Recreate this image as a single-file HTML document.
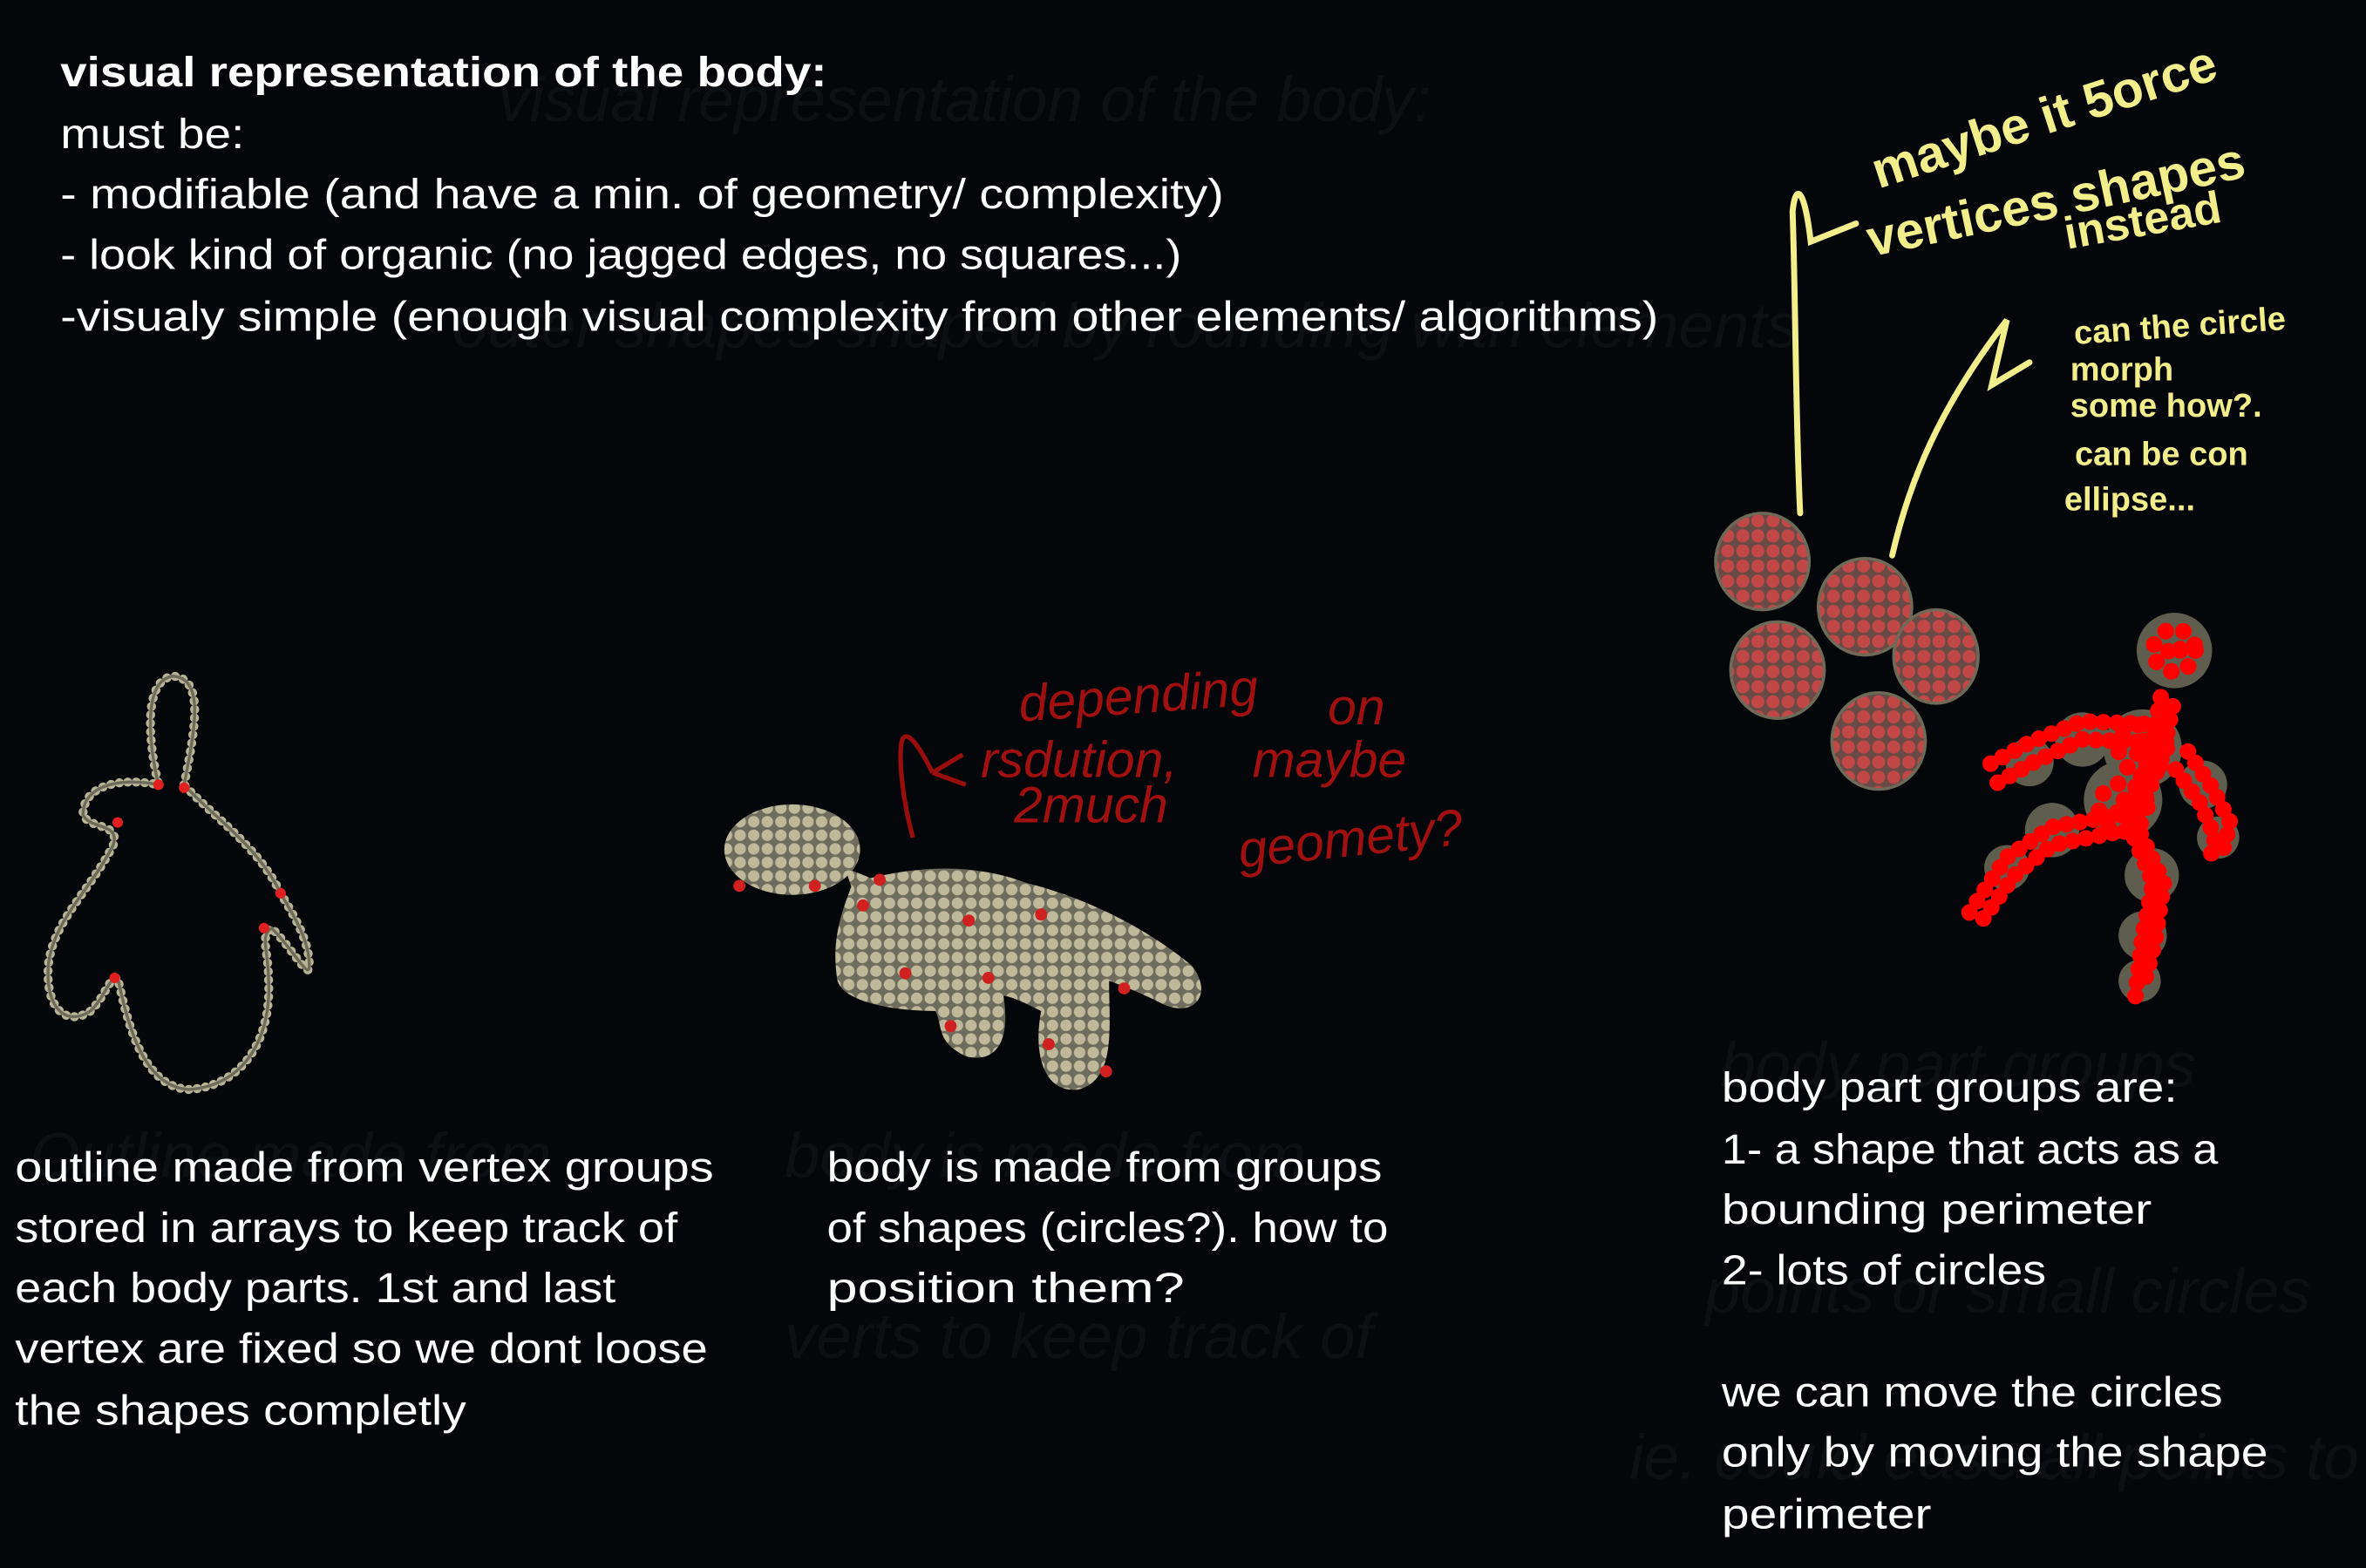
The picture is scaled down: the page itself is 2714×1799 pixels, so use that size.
<!DOCTYPE html>
<html><head><meta charset="utf-8">
<style>
html,body{margin:0;padding:0;background:#050609;width:2714px;height:1799px;overflow:hidden}
svg{display:block}
text{font-family:"Liberation Sans",sans-serif}
</style></head>
<body>
<svg width="2714" height="1799" viewBox="0 0 1568 1039">
<defs>
<pattern id="dots" width="9" height="9" patternUnits="userSpaceOnUse">
<rect width="9" height="9" fill="#6e6c5c"/>
<circle cx="4.5" cy="4.5" r="3.8" fill="#bdb99a"/>
</pattern>
<pattern id="rdots" width="10" height="10" patternUnits="userSpaceOnUse">
<rect width="10" height="10" fill="#6a4a44"/>
<circle cx="5" cy="5" r="4.3" fill="#c24848"/>
</pattern>
</defs>
<rect width="1568" height="1039" fill="#050609"/>

<!-- faint background scribbles -->
<g fill="#0c1013" font-size="42" font-style="italic">
<text x="330" y="80">visual representation of the body:</text>
<text x="300" y="230">outer shapes shaped by rounding with elements</text>
<text x="20" y="780">Outline made from</text>
<text x="520" y="780">body is made from</text>
<text x="520" y="900">verts to keep track of</text>
<text x="1140" y="720">body part groups</text>
<text x="1130" y="870">points or small circles</text>
<text x="1080" y="980">ie. could ease all points to</text>
</g>

<!-- header text -->
<g fill="#ffffff" font-size="28">
<text x="40" y="57" font-weight="bold" textLength="508" lengthAdjust="spacingAndGlyphs">visual representation of the body:</text>
<text x="40" y="98" textLength="122" lengthAdjust="spacingAndGlyphs">must be:</text>
<text x="40" y="138" textLength="771" lengthAdjust="spacingAndGlyphs">- modifiable (and have a min. of geometry/ complexity)</text>
<text x="40" y="178" textLength="743" lengthAdjust="spacingAndGlyphs">- look kind of organic (no jagged edges, no squares...)</text>
<text x="40" y="219" textLength="1059" lengthAdjust="spacingAndGlyphs">-visualy simple (enough visual complexity from other elements/ algorithms)</text>
</g>

<!-- left outline figure -->
<g>
<path d="M122,520 C130,480 135,450 115,448 C95,450 98,490 105,520 C80,515 55,520 55,540 C60,550 80,545 75,560 C60,590 35,610 32,640 C30,670 45,680 60,670 C70,660 72,648 78,648 C85,680 95,720 125,722 C160,720 180,690 178,650 C178,630 172,620 180,615 C195,630 205,650 205,640 C205,620 190,600 185,590 C170,560 140,540 122,520 Z" fill="none" stroke="#b8b496" stroke-width="6" stroke-dasharray="0.1 5.5" stroke-linecap="round"/>
<path d="M122,520 C130,480 135,450 115,448 C95,450 98,490 105,520 C80,515 55,520 55,540 C60,550 80,545 75,560 C60,590 35,610 32,640 C30,670 45,680 60,670 C70,660 72,648 78,648 C85,680 95,720 125,722 C160,720 180,690 178,650 C178,630 172,620 180,615 C195,630 205,650 205,640 C205,620 190,600 185,590 C170,560 140,540 122,520 Z" fill="none" stroke="#6d6b5a" stroke-width="2"/>
<g fill="#e02020">
<circle cx="105" cy="520" r="3.5"/><circle cx="122" cy="522" r="3.5"/><circle cx="78" cy="545" r="3.5"/>
<circle cx="76" cy="648" r="3.5"/><circle cx="175" cy="615" r="3.5"/><circle cx="186" cy="592" r="3.5"/>
</g>
</g>

<!-- middle blob -->
<g>
<ellipse cx="525" cy="563" rx="45" ry="30" fill="url(#dots)"/>
<path d="M565,585 C600,575 640,570 680,585 C720,595 760,615 790,640 C805,660 790,675 770,665 C750,655 735,650 735,650 C735,680 740,715 715,722 C690,725 685,695 690,670 C680,665 670,660 665,660 C670,690 660,705 640,700 C620,690 625,680 620,670 C595,670 560,665 555,650 C550,620 560,600 565,585 Z" fill="url(#dots)"/>
<path d="M560,575 L585,585 L570,605 Z" fill="url(#dots)"/>
<g fill="#d02020">
<circle cx="490" cy="587" r="4"/><circle cx="540" cy="587" r="4"/><circle cx="572" cy="600" r="4"/><circle cx="583" cy="583" r="4"/>
<circle cx="642" cy="610" r="4"/><circle cx="690" cy="606" r="4"/><circle cx="655" cy="648" r="4"/><circle cx="745" cy="655" r="4"/>
<circle cx="630" cy="680" r="4"/><circle cx="695" cy="692" r="4"/><circle cx="733" cy="710" r="4"/><circle cx="600" cy="645" r="4"/>
</g>
</g>

<!-- red handwriting -->
<g fill="none" stroke="#9a0d0d" stroke-width="3">
<path d="M605,555 C598,530 595,500 598,490 C602,482 612,500 618,512 M618,512 L638,500 M618,512 L640,520"/>
</g>
<g fill="#a01010" font-size="34" font-style="italic">
<text x="676" y="478" transform="rotate(-4 676 478)">depending</text>
<text x="880" y="480">on</text>
<text x="650" y="515">rsdution,</text>
<text x="830" y="515">maybe</text>
<text x="672" y="545">2much</text>
<text x="822" y="575" transform="rotate(-6 822 575)">geomety?</text>
</g>

<!-- yellow annotation -->
<g fill="none" stroke="#f2ee8c" stroke-width="4" stroke-linecap="round">
<path d="M1193,340 C1190,280 1190,200 1188,140 C1190,120 1196,125 1200,160 L1230,148"/>
<path d="M1254,368 C1265,320 1285,270 1330,212 L1320,255 L1345,240"/>
</g>
<g fill="#f2ee8c" font-weight="bold">
<text x="1245" y="125" font-size="34" transform="rotate(-18 1245 125)">maybe it 5orce</text>
<text x="1240" y="170" font-size="34" transform="rotate(-12 1240 170)">vertices shapes</text>
<text x="1370" y="165" font-size="30" transform="rotate(-10 1370 165)">instead</text>
<text x="1375" y="228" font-size="22" transform="rotate(-4 1375 228)">can the circle</text>
<text x="1372" y="252" font-size="22">morph</text>
<text x="1372" y="276" font-size="22">some how?.</text>
<text x="1375" y="308" font-size="22">can be con</text>
<text x="1368" y="338" font-size="22">ellipse...</text>
</g>

<!-- red circle groups -->
<g stroke="#6d6a58" stroke-width="2" fill="url(#rdots)">
<ellipse cx="1168" cy="372" rx="31" ry="32"/>
<ellipse cx="1236" cy="402" rx="31" ry="32"/>
<ellipse cx="1283" cy="435" rx="28" ry="31"/>
<ellipse cx="1178" cy="444" rx="31" ry="32"/>
<ellipse cx="1245" cy="491" rx="31" ry="32"/>
</g>

<!-- stick figure -->
<g>
<g fill="#5f5d4e">
<circle cx="1441" cy="431" r="25"/>
<circle cx="1420" cy="496" r="26"/><circle cx="1407" cy="530" r="26"/>
<circle cx="1380" cy="490" r="18"/><circle cx="1345" cy="505" r="16"/>
<circle cx="1360" cy="550" r="18"/><circle cx="1330" cy="575" r="15"/>
<circle cx="1460" cy="520" r="16"/><circle cx="1470" cy="555" r="14"/>
<circle cx="1426" cy="580" r="18"/><circle cx="1420" cy="620" r="16"/><circle cx="1418" cy="650" r="14"/>
</g>
<g fill="none" stroke="#ff0000" stroke-width="11" stroke-linecap="round" stroke-dasharray="0 12">
<circle cx="1441" cy="431" r="14"/><circle cx="1441" cy="431" r="4"/>
<circle cx="1420" cy="496" r="16"/><circle cx="1420" cy="496" r="5"/>
<circle cx="1407" cy="535" r="16"/><circle cx="1407" cy="535" r="5"/>
</g>
<g fill="none" stroke="#ff0000" stroke-linecap="round" stroke-linejoin="round">
<g stroke-width="11" stroke-dasharray="0 9">
<path d="M1432,462 L1425,500 L1408,540 L1427,585 L1420,620 L1415,662"/>
<path d="M1440,468 L1432,505 L1415,545 L1434,585 L1428,625 L1420,655"/>
<path d="M1430,480 L1380,478 L1345,492 L1312,510"/>
<path d="M1425,492 L1380,490 L1348,505 L1318,522"/>
<path d="M1405,540 L1360,548 L1330,568 L1305,605"/>
<path d="M1400,552 L1360,560 L1335,580 L1312,612"/>
<path d="M1450,498 L1466,522 L1478,545 L1472,568"/>
<path d="M1442,510 L1458,532 L1468,555 L1464,572"/>
</g>
</g>
</g>

<!-- bottom notes -->
<g fill="#ffffff" font-size="28">
<text x="10" y="783" textLength="463" lengthAdjust="spacingAndGlyphs">outline made from vertex groups</text>
<text x="10" y="823" textLength="439" lengthAdjust="spacingAndGlyphs">stored in arrays to keep track of</text>
<text x="10" y="863" textLength="398" lengthAdjust="spacingAndGlyphs">each body parts. 1st and last</text>
<text x="10" y="903" textLength="459" lengthAdjust="spacingAndGlyphs">vertex are fixed so we dont loose</text>
<text x="10" y="944" textLength="299" lengthAdjust="spacingAndGlyphs">the shapes completly</text>
</g>
<g fill="#ffffff" font-size="28">
<text x="548" y="783" textLength="368" lengthAdjust="spacingAndGlyphs">body is made from groups</text>
<text x="548" y="823" textLength="372" lengthAdjust="spacingAndGlyphs">of shapes (circles?). how to</text>
<text x="548" y="863" textLength="237" lengthAdjust="spacingAndGlyphs">position them?</text>
</g>
<g fill="#ffffff" font-size="28">
<text x="1141" y="730" textLength="302" lengthAdjust="spacingAndGlyphs">body part groups are:</text>
<text x="1141" y="771" textLength="329" lengthAdjust="spacingAndGlyphs">1- a shape that acts as a</text>
<text x="1141" y="811" textLength="285" lengthAdjust="spacingAndGlyphs">bounding perimeter</text>
<text x="1141" y="851" textLength="215" lengthAdjust="spacingAndGlyphs">2- lots of circles</text>
<text x="1141" y="932" textLength="332" lengthAdjust="spacingAndGlyphs">we can move the circles</text>
<text x="1141" y="972" textLength="362" lengthAdjust="spacingAndGlyphs">only by moving the shape</text>
<text x="1141" y="1013" textLength="139" lengthAdjust="spacingAndGlyphs">perimeter</text>
</g>
</svg>
</body></html>
